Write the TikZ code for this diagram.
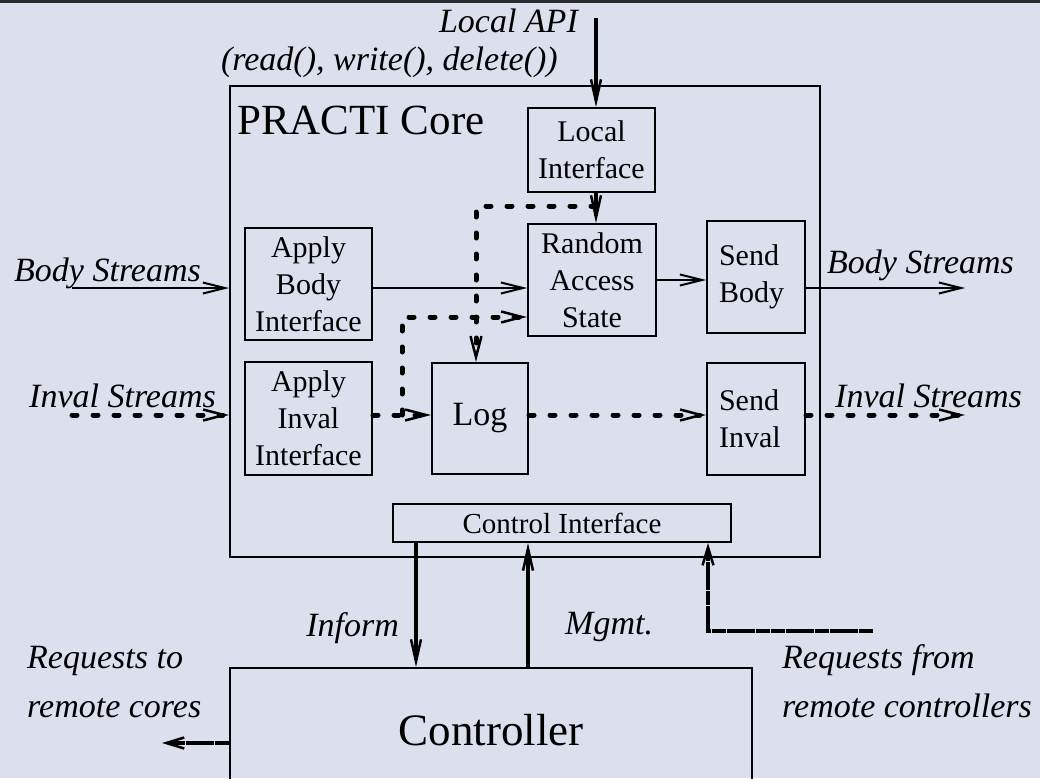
\documentclass[tikz,border=0pt]{standalone}
\usepackage{fontspec}
\setmainfont{Liberation Serif}
\usetikzlibrary{arrows.meta,calc}
\definecolor{bgc}{RGB}{220,224,237}
\definecolor{barc}{RGB}{45,45,50}
\begin{document}
\begin{tikzpicture}[x=1pt,y=-1pt,
  box/.style={draw,line width=2pt,inner sep=0pt,font=\fontsize{30}{37}\selectfont,align=center},
  lbl/.style={font=\fontsize{34}{40}\selectfont\itshape,inner sep=0pt},
  thinarrow/.style={line width=2pt,-{Straight Barb[length=22pt,width=11pt]}},
  dasharrow/.style={line width=5pt,line cap=round,dash pattern=on 5pt off 16pt,-{Straight Barb[length=21pt,width=11pt,line width=2.5pt]}},
  thickarrow/.style={line width=4pt,-{Straight Barb[length=22pt,width=10pt,line width=2.5pt]}},
  remotearrow/.style={line width=4.5pt,dash pattern=on 14pt off 0.7pt,-{Straight Barb[length=18pt,width=11pt,line width=2.5pt]}}
]
\useasboundingbox (0,0) rectangle (1040,778);
\fill[bgc] (0,0) rectangle (1040,778);
\fill[barc] (0,0) rectangle (1040,3);

% core and inner boxes
\node[box,minimum width=590pt,minimum height=471pt] (core) at (525,321.5) {};
\node[anchor=base west,inner sep=0pt,font=\fontsize{43}{50}\selectfont] (title) at (237,135) {PRACTI Core};
\node[box,minimum width=127pt,minimum height=84pt] (li) at (591.5,150) {Local\\Interface};
\node[box,minimum width=128pt,minimum height=112pt] (ra) at (592,280) {Random\\Access\\State};
\node[box,minimum width=127pt,minimum height=112pt] (ab) at (308.5,284) {Apply\\Body\\Interface};
\node[box,minimum width=127pt,minimum height=113pt] (ai) at (308.5,418.5) {Apply\\Inval\\Interface};
\node[box,minimum width=96pt,minimum height=111pt,font=\fontsize{34}{40}\selectfont] (log) at (480,418.5) {Log};
\node[box,minimum width=98pt,minimum height=112pt,text width=74pt,align=left] (sb) at (756,277) {Send\\Body};
\node[box,minimum width=98pt,minimum height=112pt,text width=74pt,align=left] (si) at (756,419) {Send\\Inval};
\node[box,minimum width=338pt,minimum height=38pt,font=\fontsize{29}{34}\selectfont] (ci) at (562,523) {Control Interface};
\begin{scope}
\clip (0,0) rectangle (1040,778);
\node[box,minimum width=522pt,minimum height=124pt,font=\fontsize{45}{50}\selectfont] (ctrl) at (491,730) {Controller};
\end{scope}

% labels
\node[lbl,anchor=base east] (api1) at (578,33) {Local API};
\node[lbl,anchor=base east] (api2) at (558,71) {(read(), write(), delete())};
\node[lbl,anchor=base west] (bsin) at (14,281) {Body Streams};
\node[lbl,anchor=base west] (isin) at (29,407) {Inval Streams};
\node[lbl,anchor=base west] (bsout) at (827,273) {Body Streams};
\node[lbl,anchor=base west] (isout) at (835,407) {Inval Streams};
\node[lbl,anchor=base east] (inform) at (399,636) {Inform};
\node[lbl,anchor=base west] (mgmt) at (565,634) {Mgmt.};
\node[lbl,anchor=base west] (rto1) at (27,668) {Requests to};
\node[lbl,anchor=base west] (rto2) at (27,717) {remote cores};
\node[lbl,anchor=base west] (rfr1) at (782,668) {Requests from};
\node[lbl,anchor=base west] (rfr2) at (782,717) {remote controllers};

% helper coordinates
\coordinate (apitop) at (596,18);
\coordinate (dj) at (596,206);
\coordinate (vx) at (476,0);
\coordinate (by) at (0,288);
\coordinate (iy) at (0,415);
\coordinate (brY) at (0,317);
\coordinate (bj) at (402,415);
\coordinate (bodyin) at (72,288);
\coordinate (invalin) at (72,415);
\coordinate (bodyout) at (965,288);
\coordinate (invalout) at (965,415);
\coordinate (infx) at (416,0);
\coordinate (mgx) at (528,0);
\coordinate (rfr) at (873,631);
\coordinate (rfx) at (708,0);
\coordinate (rto) at (162,743);

% connectors
\draw[thickarrow] (apitop) -- (apitop |- li.north);
\draw[thickarrow] (li.south -| apitop) -- (ra.north -| apitop);
\draw[dasharrow] (dj) -| (log.north -| vx);
\draw[thinarrow] (bodyin) -- (bodyin -| core.west);
\draw[dasharrow] (invalin) -- (invalin -| core.west);
\draw[thinarrow] (ab.east |- by) -- (ra.west |- by);
\draw[dasharrow] (ai.east |- iy) -- (log.west |- iy);
\draw[dasharrow] (bj) |- (ra.west |- brY);
\draw[dasharrow] (log.east |- iy) -- (si.west |- iy);
\draw[thinarrow] (ra.east) -- (ra.east -| sb.west);
\draw[thinarrow] (sb.east |- bodyout) -- (bodyout);
\draw[dasharrow] (si.east |- invalout) -- (invalout);
\draw[thickarrow] (ci.south -| infx) -- (ctrl.north -| infx);
\draw[thickarrow] (ctrl.north -| mgx) -- (ci.south -| mgx);
\draw[remotearrow] (rfr) -| (ci.south -| rfx);
\draw[remotearrow] (ctrl.west |- rto) -- (rto);
\end{tikzpicture}
\end{document}
